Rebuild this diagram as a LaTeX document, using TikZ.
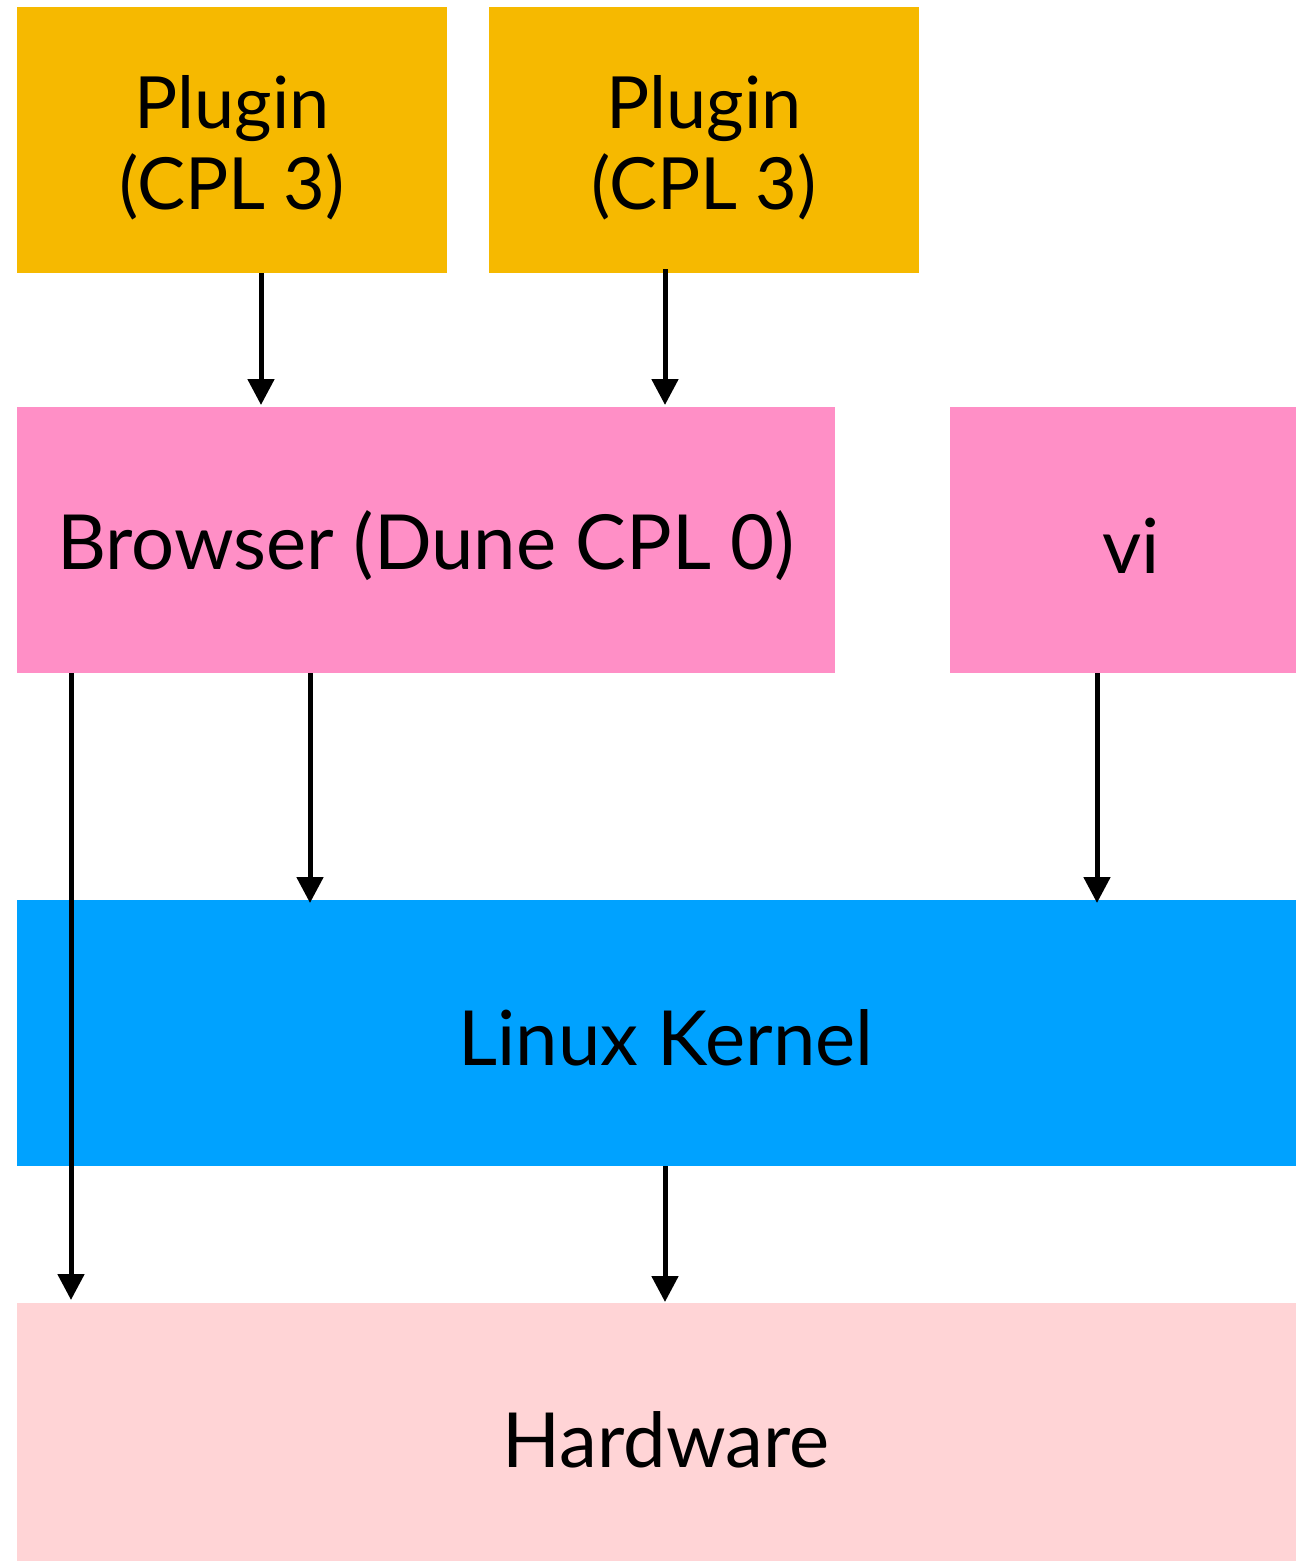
\documentclass[tikz,border=0pt]{standalone}
\usepackage{fontspec}
\setmainfont{Lato}
\usetikzlibrary{arrows.meta}
\definecolor{plug}{HTML}{F6B900}
\definecolor{brow}{HTML}{FF8FC6}
\definecolor{kern}{HTML}{00A2FF}
\definecolor{hard}{HTML}{FFD4D6}
\begin{document}
\begin{tikzpicture}[x=1pt,y=-1pt,
  blk/.style={inner sep=0pt, outer sep=0pt, font=\fontsize{76}{81}\selectfont, align=center},
  plg/.style={blk, font=\fontsize{72}{81}\selectfont},
  conn/.style={line width=5pt, -{Triangle[length=26pt,width=26pt]}, shorten >=2pt}]
\useasboundingbox (0,0) rectangle (1296,1561);
\fill[plug] (17,7) rectangle (447,273);
\fill[plug] (489,7) rectangle (919,273);
\fill[brow] (17,407) rectangle (835,673);
\fill[brow] (950,407) rectangle (1296,673);
\fill[kern] (17,900) rectangle (1296,1166);
\fill[hard] (17,1303) rectangle (1296,1561);
\node[plg] (p1) at (232,148) {Plugin\\(CPL 3)};
\node[plg] (p2) at (704,148) {Plugin\\(CPL 3)};
\node[blk] (br) at (426,546) {Browser (Dune CPL 0)};
\node[blk] (vi) at (1131,546) {vi};
\node[blk] (lk) at (666,1038) {Linux Kernel};
\node[blk] (hw) at (666,1440) {Hardware};
\coordinate (a1s) at (261,273); \coordinate (a1e) at (261,407);
\coordinate (a2s) at (665,269); \coordinate (a2e) at (665,407);
\coordinate (a3s) at (310,673); \coordinate (a3e) at (310,905);
\coordinate (a4s) at (71,673); \coordinate (a4e) at (71,1302);
\coordinate (a5s) at (1097,673); \coordinate (a5e) at (1097,905);
\coordinate (a6s) at (665,1166); \coordinate (a6e) at (665,1304);
\draw[conn] (a1s) -- (a1e);
\draw[conn] (a2s) -- (a2e);
\draw[conn] (a3s) -- (a3e);
\draw[conn] (a4s) -- (a4e);
\draw[conn] (a5s) -- (a5e);
\draw[conn] (a6s) -- (a6e);
\end{tikzpicture}
\end{document}
